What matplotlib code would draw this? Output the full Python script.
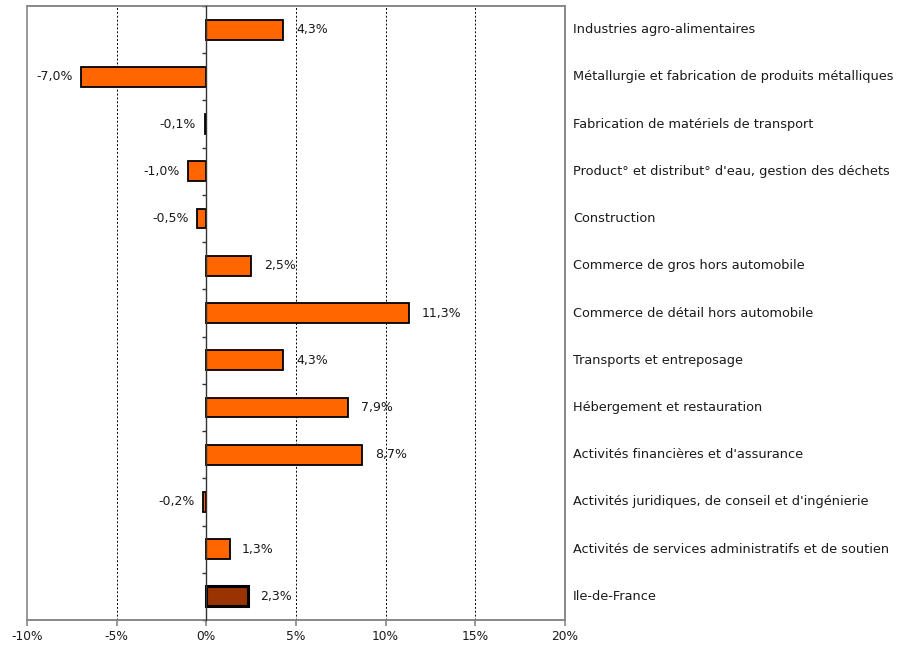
import matplotlib
matplotlib.use("Agg")
import matplotlib.pyplot as plt
import numpy as np
from matplotlib.patches import Rectangle
from matplotlib.transforms import blended_transform_factory

categories = [
    "Industries agro-alimentaires",
    "Métallurgie et fabrication de produits métalliques",
    "Fabrication de matériels de transport",
    "Product° et distribut° d'eau, gestion des déchets",
    "Construction",
    "Commerce de gros hors automobile",
    "Commerce de détail hors automobile",
    "Transports et entreposage",
    "Hébergement et restauration",
    "Activités financières et d'assurance",
    "Activités juridiques, de conseil et d'ingénierie",
    "Activités de services administratifs et de soutien",
    "Ile-de-France",
]
values = [4.3, -7.0, -0.1, -1.0, -0.5, 2.5, 11.3, 4.3, 7.9, 8.7, -0.2, 1.3, 2.3]
xticks = [-10, -5, 0, 5, 10, 15, 20]

plt.rcParams['font.family'] = ['DejaVu Sans']
fig = plt.figure(figsize=(9.07, 6.46), dpi=100)
ax = fig.add_axes([27/907, 1 - 620/646, (565-27)/907, (620-6)/646])

n = len(values)
y = np.arange(n)
colors = ['#FF6600'] * (n - 1) + ['#993300']
lws = [1.3] * (n - 1) + [2.2]
ax.barh(y, values, height=0.42, color=colors, edgecolor='black', linewidth=lws, zorder=3)

ax.set_xlim(-10, 20)
ax.set_ylim(n - 0.5, -0.5)

for gx in [-5, 5, 10, 15]:
    ax.axvline(gx, color='black', linestyle=(0, (2, 2)), linewidth=0.7, zorder=1)

# value labels
for yi, v in zip(y, values):
    s = f"{v:.1f}".replace('.', ',') + '%'
    if v >= 0:
        ax.annotate(s, (v, yi), xytext=(9, 0), textcoords='offset points',
                    ha='left', va='center', fontsize=9, color='#1a1a1a')
    else:
        ax.annotate(s, (v, yi), xytext=(-6, 0), textcoords='offset points',
                    ha='right', va='center', fontsize=9, color='#1a1a1a')

# category labels on the right
tr = blended_transform_factory(ax.transAxes, ax.transData)
for yi, c in zip(y, categories):
    ax.text(1.015, yi, c, transform=tr, ha='left', va='center', fontsize=9.3, color='#1a1a1a')

# spines
ax.spines['left'].set_position(('data', 0))
ax.spines['left'].set_color('#333333')
ax.spines['left'].set_linewidth(1.0)
ax.spines['left'].set_zorder(4)
for s in ['top', 'right', 'bottom']:
    ax.spines[s].set_color('#888888')
    ax.spines[s].set_linewidth(1.2)
ax.add_patch(Rectangle((0, 0), 1, 1, transform=ax.transAxes, fill=False,
                       edgecolor='#888888', linewidth=1.2, zorder=0, clip_on=False))

ax.set_yticks(np.arange(-0.5, n, 1.0))
ax.set_yticklabels([])
ax.tick_params(axis='y', direction='out', length=3, color='#333333', width=1)
ax.set_xticks(xticks)
ax.set_xticklabels([f"{t}%" for t in xticks], fontsize=8.8, color='#1a1a1a')
ax.tick_params(axis='x', direction='out', length=4, color='#888888', width=1.2, pad=3)

fig.savefig('out.png', dpi=100)
